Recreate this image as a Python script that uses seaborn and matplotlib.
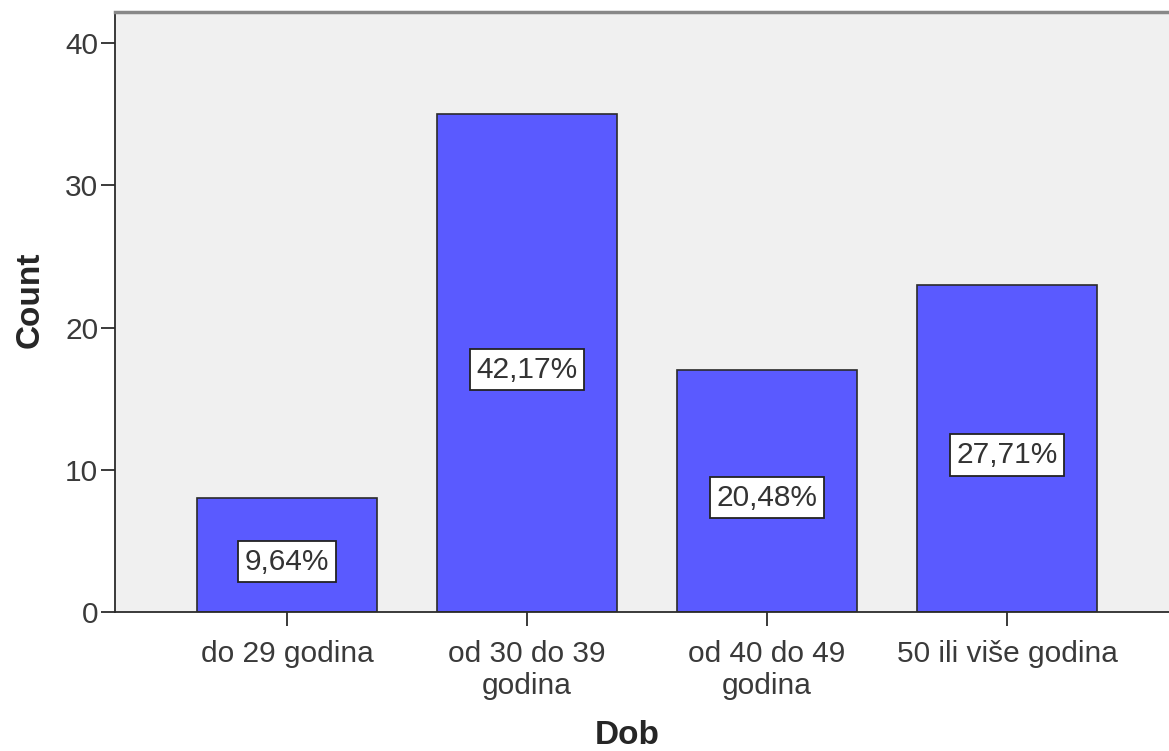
import matplotlib
matplotlib.use("Agg")
import matplotlib.pyplot as plt
import seaborn as sns
import pandas as pd

categories = ["do 29 godina", "od 30 do 39\ngodina", "od 40 do 49\ngodina", "50 ili više godina"]
counts = [8, 35, 17, 23]
yticks = [0, 10, 20, 30, 40]

sns.set_style("ticks")
plt.rcParams['font.family'] = ['Liberation Sans', 'DejaVu Sans']

df = pd.DataFrame({"Dob": categories, "Count": counts})
total = sum(counts)

fig = plt.figure(figsize=(11.69, 7.51), dpi=100)
ax = fig.add_axes([0.0984, 0.185, 0.9016, 0.799])
ax.set_facecolor("#F0F0F0")

sns.barplot(data=df, x="Dob", y="Count", color="#5A5AFF", saturation=1,
            width=0.75, edgecolor="#2b2b2b", linewidth=1.2, ax=ax)

for i, c in enumerate(counts):
    pct = f"{c / total * 100:.2f}%".replace(".", ",")
    ax.text(i, c / 2 - 0.45, pct, ha="center", va="center", fontsize=21.5, color="#333333",
            bbox=dict(boxstyle="square,pad=0.22", facecolor="white", edgecolor="#222222", linewidth=1.3))

ax.set_xlim(-0.717, 3.675)
ax.set_ylim(0, 42.2)
ax.set_yticks(yticks)
ax.tick_params(axis="both", labelsize=21.5, colors="#2b2b2b", direction="out", width=1.3)
ax.tick_params(axis="x", length=10, pad=10, labelcolor="#3a3a3a")
ax.tick_params(axis="y", length=10, pad=2, labelcolor="#3a3a3a")
ax.set_ylabel("Count", fontsize=24, fontweight="bold", labelpad=14, y=0.52)
ax.set_xlabel("Dob", fontsize=24, fontweight="bold", va="center")
ax.xaxis.set_label_coords(0.486, -0.205)

for s in ["left", "bottom"]:
    ax.spines[s].set_color("#2b2b2b")
    ax.spines[s].set_linewidth(1.3)
ax.spines["top"].set_color("#888888")
ax.spines["top"].set_linewidth(2.5)
ax.spines["right"].set_visible(False)

plt.savefig("out.png", dpi=100)
